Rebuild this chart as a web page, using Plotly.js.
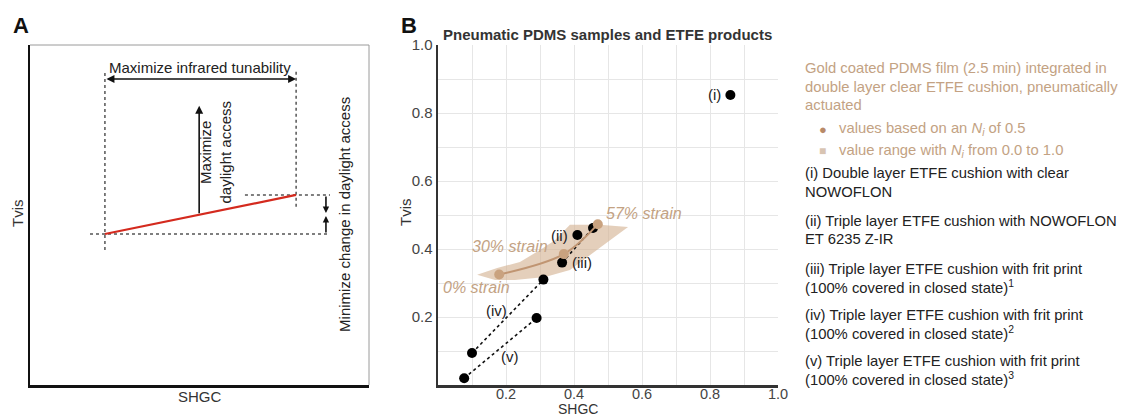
<!DOCTYPE html>
<html><head><meta charset="utf-8">
<script src="https://cdn.plot.ly/plotly-3.0.1.min.js"></script>
<style>html,body{margin:0;padding:0;background:#fff}#chart{width:1121px;height:419px}</style>
</head><body><div id="chart"></div>
<script>
// ---------- Panel A (schematic, unitless 0..1 axes) ----------
const schemRedSHGC = [0.221, 0.785];
const schemRedTvis = [0.444, 0.559];
const guideSHGC = [0.221, 0.221, null, 0.785, 0.785, null, 0.177, 0.885, null, 0.634, 0.885];
const guideTvis = [0.397, 0.921, null, 0.524, 0.921, null, 0.444, 0.444, null, 0.559, 0.559];
const tunabilityArrowY = 0.9;
const daylightArrow = {x: 0.499, y0: 0.501, y1: 0.821};
const changeArrowX = 0.873;
const changeArrowHeads = [0.506, 0.497];

// ---------- Panel B data ----------
const strainLabels = ['0% strain', '30% strain', '57% strain'];
const pdmsSHGC = [0.18, 0.37, 0.47];
const pdmsTvis = [0.325, 0.385, 0.473];
const bandSHGC = [0.115, 0.174, 0.241, 0.300, 0.344, 0.388, 0.476, 0.559, 0.506, 0.438, 0.388, 0.315, 0.226, 0.168, 0.115];
const bandTvis = [0.324, 0.344, 0.362, 0.397, 0.426, 0.471, 0.471, 0.465, 0.426, 0.374, 0.338, 0.318, 0.309, 0.309, 0.324];
const productLabels = ['(i)', '(ii)', '(iii)', '(iv)', '(v)'];
const iSHGC = [0.86],  iTvis = [0.853];
const iiSHGC = [0.41], iiTvis = [0.441];
const iiiSHGC = [0.365, 0.456], iiiTvis = [0.36, 0.462];
const ivSHGC = [0.10, 0.31], ivTvis = [0.094, 0.31];
const vSHGC = [0.077, 0.29], vTvis = [0.02, 0.197];
const gridVals = [0, 0.1, 0.2, 0.3, 0.4, 0.5, 0.6, 0.7, 0.8, 0.9, 1.0];
const tickVals = [0.2, 0.4, 0.6, 0.8, 1.0];
const tickText = ['0.2', '0.4', '0.6', '0.8', '1.0'];

const legendLines = [
  'Gold coated PDMS film (2.5 min) integrated in',
  'double layer clear ETFE cushion, pneumatically',
  'actuated'
];
const legendMarkerText = ['values based on an <i>N<sub>i</sub></i> of 0.5', 'value range with <i>N<sub>i</sub></i> from 0.0 to 1.0'];
const productDescriptions = [
  ['(i) Double layer ETFE cushion with clear', 'NOWOFLON'],
  ['(ii) Triple layer ETFE cushion with NOWOFLON', 'ET 6235 Z-IR'],
  ['(iii) Triple layer ETFE cushion with frit print', '(100% covered in closed state)<sup>1</sup>'],
  ['(iv) Triple layer ETFE cushion with frit print', '(100% covered in closed state)<sup>2</sup>'],
  ['(v) Triple layer ETFE cushion with frit print', '(100% covered in closed state)<sup>3</sup>']
];

const W = 1121, H = 419;
const FONT = 'Liberation Sans, Arial, Helvetica, sans-serif';
const BROWN_TEXT = '#c3a283';
const BROWN_LINE = '#c09572';
const BROWN_DOT = '#c9a27f';
const px = x => x / W;
const py = y => 1 - y / H;

const traces = [];
// Panel A
traces.push({x: guideSHGC, y: guideTvis, xaxis: 'x', yaxis: 'y', mode: 'lines',
  line: {color: '#555', width: 1.5, dash: 'dot'}, hoverinfo: 'skip'});
traces.push({x: schemRedSHGC, y: schemRedTvis, xaxis: 'x', yaxis: 'y', mode: 'lines',
  line: {color: '#d42a1e', width: 2.2}, hoverinfo: 'skip'});

// Panel B
traces.push({x: bandSHGC, y: bandTvis, xaxis: 'x2', yaxis: 'y2', mode: 'lines', fill: 'toself',
  fillcolor: 'rgba(212,178,146,0.62)', line: {width: 0, color: 'rgba(0,0,0,0)'}, hoverinfo: 'skip'});
const dotLine = {color: '#111', width: 1.6, dash: 'dot'};
const blackDot = {color: '#000', size: 10};
[[iiiSHGC, iiiTvis], [ivSHGC, ivTvis], [vSHGC, vTvis]].forEach(([xs, ys]) => {
  traces.push({x: xs, y: ys, xaxis: 'x2', yaxis: 'y2', mode: 'lines+markers',
    line: dotLine, marker: blackDot});
});
traces.push({x: iSHGC.concat(iiSHGC), y: iTvis.concat(iiTvis), xaxis: 'x2', yaxis: 'y2',
  mode: 'markers', marker: blackDot});
traces.push({x: pdmsSHGC, y: pdmsTvis, xaxis: 'x2', yaxis: 'y2', mode: 'lines+markers',
  line: {color: BROWN_LINE, width: 2, shape: 'spline'}, marker: {color: BROWN_DOT, size: 10}});

const ann = [];
const txt = (text, x, y, o) => Object.assign({text, x, y, xref: 'paper', yref: 'paper', showarrow: false,
  xanchor: 'left', yanchor: 'middle', font: {family: FONT, size: 15, color: '#222'}}, o || {});

// Panel letters
ann.push(txt('<b>A</b>', px(11), py(25), {font: {family: FONT, size: 22, color: '#111'}}));
ann.push(txt('<b>B</b>', px(399), py(25), {font: {family: FONT, size: 22, color: '#111'}}));

// Panel A text
ann.push(txt('Tvis', px(17), py(213), {xanchor: 'center', textangle: -90, font: {family: FONT, size: 15, color: '#333'}}));
ann.push(txt('SHGC', px(200), py(396), {xanchor: 'center', font: {family: FONT, size: 15, color: '#333'}}));
ann.push({text: 'Maximize infrared tunability', x: 0.5, y: 0.935, xref: 'x', yref: 'y', showarrow: false,
  xanchor: 'center', yanchor: 'middle', font: {family: FONT, size: 15, color: '#222'}});
ann.push({text: 'Maximize<br>daylight access', x: 0.547, y: 0.685, xref: 'x', yref: 'y', showarrow: false,
  textangle: -90, align: 'center', xanchor: 'center', yanchor: 'middle', font: {family: FONT, size: 15, color: '#222'}});
ann.push({text: 'Minimize change in daylight access', x: 0.929, y: 0.503, xref: 'x', yref: 'y', showarrow: false,
  textangle: -90, xanchor: 'center', yanchor: 'middle', font: {family: FONT, size: 15, color: '#222'}});
const arrowBase = {text: '', xref: 'x', yref: 'y', axref: 'x', ayref: 'y', showarrow: true,
  arrowcolor: '#111', arrowwidth: 1.6, arrowhead: 2, arrowsize: 1, standoff: 0, startstandoff: 0};
ann.push(Object.assign({}, arrowBase, {x: schemRedSHGC[1], y: tunabilityArrowY, ax: schemRedSHGC[0], ay: tunabilityArrowY,
  arrowside: 'end+start'}));
ann.push(Object.assign({}, arrowBase, {x: daylightArrow.x, y: daylightArrow.y1, ax: daylightArrow.x, ay: daylightArrow.y0}));
ann.push(Object.assign({}, arrowBase, {x: changeArrowX, y: changeArrowHeads[0], ax: changeArrowX, ay: schemRedTvis[1], arrowsize: 0.8}));
ann.push(Object.assign({}, arrowBase, {x: changeArrowX, y: changeArrowHeads[1], ax: changeArrowX, ay: schemRedTvis[0], arrowsize: 0.8}));

// Panel B text
ann.push(txt('<b>Pneumatic PDMS samples and ETFE products</b>', px(607), py(34), {xanchor: 'center', font: {family: FONT, size: 15, color: '#333'}}));
ann.push(txt('Tvis', px(406), py(212), {xanchor: 'center', textangle: -90, font: {family: FONT, size: 15, color: '#333'}}));
ann.push(txt('SHGC', px(578), py(419), {xanchor: 'center', yanchor: 'bottom', font: {family: FONT, size: 14, color: '#333'}}));
// x tick labels of panel B, positioned on the x2 scale
tickVals.forEach((v, i) => ann.push({text: tickText[i], x: v, y: py(393.5), xref: 'x2', yref: 'paper', showarrow: false,
  xanchor: 'center', yanchor: 'middle', font: {family: FONT, size: 14.5, color: '#444'}}));

const bAnn = (text, x, y, o) => Object.assign({text, x, y, xref: 'x2', yref: 'y2', showarrow: false,
  xanchor: 'center', yanchor: 'middle', font: {family: FONT, size: 15, color: '#222'}}, o || {});
ann.push(bAnn(productLabels[0], iSHGC[0], iTvis[0], {xanchor: 'right', xshift: -7}));
ann.push(bAnn(productLabels[1], iiSHGC[0], iiTvis[0], {xanchor: 'right', xshift: -7}));
ann.push(bAnn(productLabels[2], iiiSHGC[0], iiiTvis[0], {xanchor: 'left', xshift: 8}));
ann.push(bAnn(productLabels[3], 0.171, 0.218));
ann.push(bAnn(productLabels[4], 0.212, 0.085));
const strainFont = {family: FONT, size: 16, color: BROWN_TEXT};
ann.push(bAnn('<i>' + strainLabels[0] + '</i>', 0.112, 0.288, {font: strainFont}));
ann.push(bAnn('<i>' + strainLabels[1] + '</i>', 0.33, 0.406, {xanchor: 'right', font: strainFont}));
ann.push(bAnn('<i>' + strainLabels[2] + '</i>', 0.488, 0.503, {xanchor: 'left', font: strainFont}));

// Legend block
const LX = px(803);
const brownFont = {family: FONT, size: 14.8, color: BROWN_TEXT};
const darkFont = {family: FONT, size: 14.8, color: '#222'};
[68, 87, 105].forEach((y, i) => ann.push(txt(legendLines[i], LX, py(y), {font: brownFont})));
ann.push(txt('●', px(817), py(129), {font: {family: FONT, size: 13, color: '#b88a68'}}));
ann.push(txt('■', px(817), py(151), {font: {family: FONT, size: 12, color: '#d8c4b2'}}));
ann.push(txt(legendMarkerText[0], px(837), py(129), {font: brownFont}));
ann.push(txt(legendMarkerText[1], px(837), py(151), {font: brownFont}));
const descY = [[173, 192], [221, 239], [269, 287], [315, 333], [361, 379]];
productDescriptions.forEach((lines, i) => {
  ann.push(txt(lines[0], LX, py(descY[i][0]), {font: darkFont}));
  ann.push(txt(lines[1], LX, py(descY[i][1]), {font: darkFont}));
});

const yDom = [1 - 385 / H, 1 - 45 / H];
const bAxis = {range: [0, 1], tickmode: 'array', tickvals: tickVals, ticktext: tickText,
  showgrid: true, gridcolor: '#e6e6e6', gridwidth: 1, zeroline: false, ticks: '', ticklen: 0, showline: true,
  linecolor: '#333', linewidth: 2.5, tickfont: {family: FONT, size: 15, color: '#444'}, fixedrange: true,
  minor: {tickmode: 'array', tickvals: gridVals, showgrid: true, gridcolor: '#e6e6e6', gridwidth: 1, ticks: ''}};
const layout = {
  width: W, height: H, margin: {l: 0, r: 0, t: 0, b: 0}, showlegend: false,
  paper_bgcolor: '#fff', plot_bgcolor: '#fff', font: {family: FONT},
  xaxis: {domain: [px(30), px(369)], range: [0, 1], showgrid: false, zeroline: false, showticklabels: false,
    ticks: '', showline: true, linecolor: '#111', linewidth: 2.5, fixedrange: true},
  yaxis: {domain: yDom, range: [0, 1], showgrid: false, zeroline: false, showticklabels: false,
    ticks: '', showline: true, linecolor: '#111', linewidth: 2.5, fixedrange: true},
  xaxis2: Object.assign({domain: [px(438), px(778)], anchor: 'y2'}, bAxis, {showticklabels: false}),
  yaxis2: Object.assign({domain: yDom, anchor: 'x2'}, bAxis),
  shapes: [
    {type: 'line', xref: 'x domain', yref: 'y domain', x0: 0, x1: 1, y0: 1, y1: 1, line: {color: '#9a9a9a', width: 1}},
    {type: 'line', xref: 'x domain', yref: 'y domain', x0: 1, x1: 1, y0: 0, y1: 1, line: {color: '#9a9a9a', width: 1}}
  ],
  annotations: ann
};
Plotly.newPlot('chart', traces, layout, {staticPlot: true, displayModeBar: false});
</script>
</body></html>
